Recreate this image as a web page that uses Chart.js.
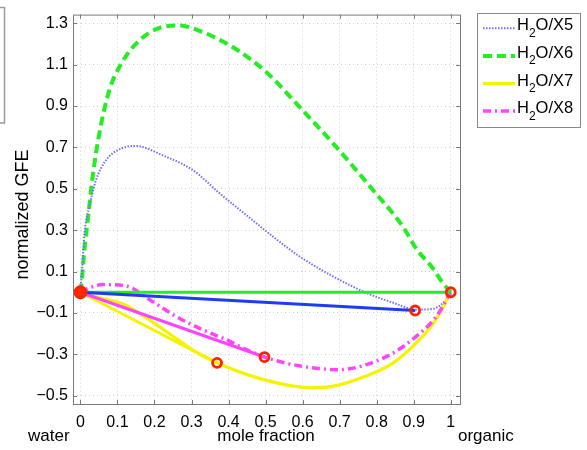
<!DOCTYPE html>
<html>
<head>
<meta charset="utf-8">
<script src="https://cdn.jsdelivr.net/npm/chart.js@4.4.1/dist/chart.umd.min.js"></script>
<style>
    body { margin: 0; background: #fff; }
    #wrap { width: 587px; height: 450px; }
</style>
</head>
<body>
<div id="wrap"><canvas id="gfeChart" width="587" height="450"></canvas></div>
<script>
// data
var xTicks = [0, 0.1, 0.2, 0.3, 0.4, 0.5, 0.6, 0.7, 0.8, 0.9, 1];
var yTicks = [-0.5, -0.3, -0.1, 0.1, 0.3, 0.5, 0.7, 0.9, 1.1, 1.3];

var x5X = [0, 0.005, 0.011, 0.024, 0.042, 0.069, 0.105, 0.15, 0.222, 0.304, 0.376, 0.448, 0.52, 0.592, 0.682, 0.772, 0.845, 0.907, 0.952, 0.988, 1];
var x5Y = [0, 0.12, 0.285, 0.413, 0.542, 0.638, 0.691, 0.707, 0.662, 0.59, 0.478, 0.373, 0.269, 0.173, 0.077, -0.003, -0.051, -0.084, -0.08, -0.035, 0];

var x6X = [0, 0.005, 0.011, 0.02, 0.033, 0.051, 0.078, 0.11, 0.159, 0.214, 0.268, 0.331, 0.412, 0.502, 0.592, 0.691, 0.79, 0.871, 0.907, 0.95, 0.979, 1];
var x6Y = [0, 0.08, 0.21, 0.35, 0.558, 0.767, 0.976, 1.104, 1.217, 1.278, 1.289, 1.257, 1.184, 1.064, 0.895, 0.702, 0.494, 0.317, 0.21, 0.12, 0.044, 0];

var x7X = [0, 0.05, 0.12, 0.2, 0.26, 0.31, 0.369, 0.45, 0.53, 0.62, 0.68, 0.77, 0.845, 0.907, 0.96, 1];
var x7Y = [0, -0.025, -0.06, -0.15, -0.225, -0.287, -0.341, -0.398, -0.438, -0.462, -0.455, -0.406, -0.341, -0.245, -0.133, 0];

var x8X = [0, 0.03, 0.06, 0.124, 0.186, 0.258, 0.33, 0.394, 0.448, 0.52, 0.6, 0.7, 0.772, 0.845, 0.907, 0.961, 1];
var x8Y = [0, 0.025, 0.037, 0.03, -0.035, -0.116, -0.181, -0.229, -0.277, -0.326, -0.358, -0.374, -0.35, -0.293, -0.213, -0.117, 0];

// tie lines (water end, organic end)
var tieGreenX = [0, 1];      var tieGreenY = [0, 0];
var tieBlueX = [0, 0.904];   var tieBlueY = [0, -0.088];
var tieMagentaX = [0, 0.497]; var tieMagentaY = [0, -0.313];
var tieYellowX = [0, 0.369]; var tieYellowY = [0, -0.341];

var markX = [0, 1, 0.904, 0.497, 0.369];
var markY = [0, 0, -0.088, -0.313, -0.341];

var legendNames = ['X5', 'X6', 'X7', 'X8'];

var FONT = "'Liberation Sans', Arial, sans-serif";

function pts(xs, ys){
    return xs.map(function(x, i){ return {x: x, y: ys[i]}; });
}

function curve(xs, ys, color, width, dash){
    return {
        data: pts(xs, ys),
        showLine: true,
        borderColor: color,
        borderWidth: width,
        borderDash: dash,
        pointRadius: 0,
        cubicInterpolationMode: 'monotone',
        fill: false
    };
}

function tie(xs, ys, color){
    return {
        data: pts(xs, ys),
        showLine: true,
        borderColor: color,
        borderWidth: 3,
        pointRadius: 0,
        tension: 0,
        fill: false
    };
}

var legendStyles = [
    {color: '#6f6fff', width: 2, dash: [1.5, 1.5]},
    {color: '#22ee22', width: 4, dash: [9, 5]},
    {color: '#f4f400', width: 3.2, dash: []},
    {color: '#ff44ff', width: 3.5, dash: [8, 4, 2, 4]}
];

var framePlugin = {
    id: 'framePlugin',
    afterDraw: function(chart){
        var ctx = chart.ctx;
        var a = chart.chartArea;
        var xs = chart.scales.x, ys = chart.scales.y;
        ctx.save();

        // axes box + inward ticks
        ctx.strokeStyle = '#7a7a7a';
        ctx.lineWidth = 1;
        ctx.setLineDash([]);
        ctx.strokeRect(a.left + 0.5, a.top + 0.5, a.right - a.left, a.bottom - a.top);
        ctx.beginPath();
        xTicks.forEach(function(v){
            var px = Math.round(xs.getPixelForValue(v)) + 0.5;
            ctx.moveTo(px, a.bottom); ctx.lineTo(px, a.bottom - 4);
            ctx.moveTo(px, a.top); ctx.lineTo(px, a.top + 4);
        });
        yTicks.forEach(function(v){
            var py = Math.round(ys.getPixelForValue(v)) + 0.5;
            ctx.moveTo(a.left, py); ctx.lineTo(a.left + 4, py);
            ctx.moveTo(a.right, py); ctx.lineTo(a.right - 4, py);
        });
        ctx.stroke();

        // cut off box on the far left
        ctx.strokeStyle = '#9a9a9a';
        ctx.lineWidth = 1.5;
        ctx.strokeRect(-2, 7.5, 6.5, 115.5);

        // axis titles
        ctx.fillStyle = '#000';
        ctx.font = '17px ' + FONT;
        ctx.textBaseline = 'alphabetic';
        ctx.textAlign = 'center';
        ctx.fillText('mole fraction', 266, 441);
        ctx.textAlign = 'left';
        ctx.fillText('water', 28, 441);
        ctx.fillText('organic', 458, 441);

        ctx.save();
        ctx.translate(28, 214.5);
        ctx.rotate(-Math.PI / 2);
        ctx.textAlign = 'center';
        ctx.font = '18px ' + FONT;
        ctx.fillText('normalized GFE', 0, 0);
        ctx.restore();

        // legend
        ctx.fillStyle = '#fff';
        ctx.fillRect(477, 13, 103, 114);
        ctx.strokeStyle = '#8a8a8a';
        ctx.lineWidth = 1;
        ctx.strokeRect(477.5, 13.5, 103, 114);
        legendNames.forEach(function(name, i){
            var y = 28.3 + i * 27.6;
            var st = legendStyles[i];
            ctx.beginPath();
            ctx.strokeStyle = st.color;
            ctx.lineWidth = st.width;
            ctx.setLineDash(st.dash);
            ctx.moveTo(483, y);
            ctx.lineTo(515, y);
            ctx.stroke();
            ctx.setLineDash([]);
            ctx.fillStyle = '#000';
            ctx.textAlign = 'left';
            ctx.font = '16.5px ' + FONT;
            ctx.fillText('H', 517, y + 2);
            var hw = ctx.measureText('H').width;
            ctx.font = '12px ' + FONT;
            ctx.fillText('2', 517 + hw, y + 8.5);
            var sw = ctx.measureText('2').width;
            ctx.font = '16.5px ' + FONT;
            ctx.fillText('O/' + name, 517 + hw + sw, y + 2);
        });

        ctx.restore();
    }
};

document.addEventListener('DOMContentLoaded', function() {

    var markFill = markX.map(function(v, i){ return i === 0 ? '#ff2a00' : 'rgba(0,0,0,0)'; });

    var datasets = [
        {
            data: pts(markX, markY),
            showLine: false,
            pointRadius: [5.5, 4.5, 4.5, 4.5, 4.5],
            pointBorderWidth: 2.8,
            pointBorderColor: '#ff2200',
            pointBackgroundColor: markFill
        },
        tie(tieBlueX, tieBlueY, '#1f3cf5'),
        tie(tieMagentaX, tieMagentaY, '#ff44ff'),
        tie(tieYellowX, tieYellowY, '#f4f400'),
        tie(tieGreenX, tieGreenY, '#22ee22'),
        curve(x8X, x8Y, legendStyles[3].color, legendStyles[3].width, legendStyles[3].dash),
        curve(x7X, x7Y, legendStyles[2].color, legendStyles[2].width, legendStyles[2].dash),
        curve(x5X, x5Y, legendStyles[0].color, legendStyles[0].width, legendStyles[0].dash),
        curve(x6X, x6Y, legendStyles[1].color, legendStyles[1].width, legendStyles[1].dash)
    ];

    var cont = document.getElementById('gfeChart').getContext('2d');
    var myChart = new Chart(cont, {
        type: 'scatter',
        data: { datasets: datasets },
        options: {
            responsive: false,
            animation: false,
            layout: { padding: { top: 14, right: 127, left: 0, bottom: 0 } },
            scales: {
                x: {
                    type: 'linear',
                    min: -0.02,
                    max: 1.025,
                    afterBuildTicks: function(scale){
                        scale.ticks = xTicks.map(function(v){ return {value: v}; });
                    },
                    afterFit: function(scale){ scale.height = 46; },
                    grid: { color: '#cfcfcf', lineWidth: 1, drawTicks: false },
                    border: { display: false, dash: [1, 3] },
                    ticks: {
                        padding: 9,
                        color: '#000',
                        maxRotation: 0,
                        font: { family: FONT, size: 16 },
                        callback: function(v){ return (v === 0 || v === 1) ? String(v) : v.toFixed(1); }
                    }
                },
                y: {
                    type: 'linear',
                    min: -0.54,
                    max: 1.342,
                    afterBuildTicks: function(scale){
                        scale.ticks = yTicks.map(function(v){ return {value: v}; });
                    },
                    afterFit: function(scale){ scale.width = 73; },
                    grid: { color: '#cfcfcf', lineWidth: 1, drawTicks: false },
                    border: { display: false, dash: [1, 3] },
                    ticks: {
                        padding: 5,
                        color: '#000',
                        font: { family: FONT, size: 16 },
                        callback: function(v){ return v.toFixed(1).replace('-', '\u2212'); }
                    }
                }
            },
            plugins: {
                legend: { display: false },
                tooltip: { enabled: false }
            }
        },
        plugins: [framePlugin]
    });

});
</script>
</body>
</html>
